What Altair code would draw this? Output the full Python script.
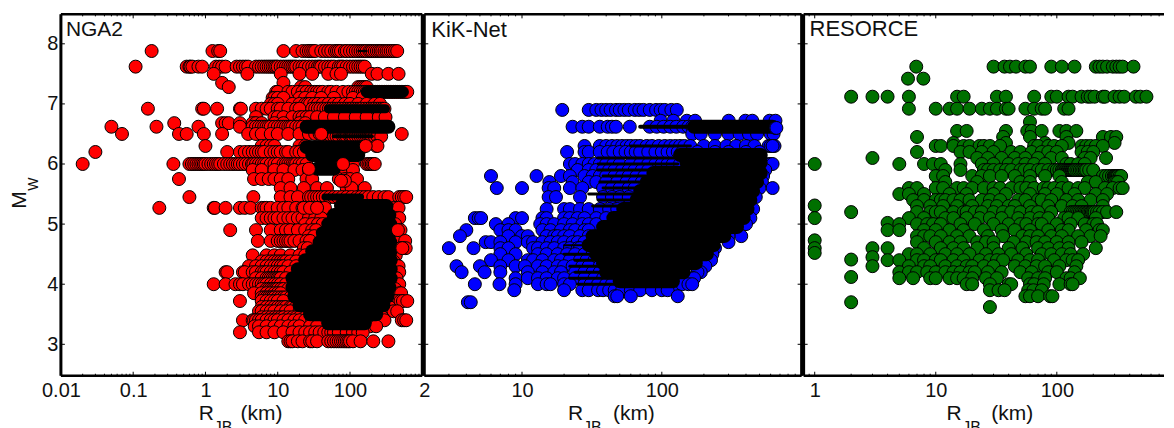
import altair as alt
import pandas as pd

FONT = "Liberation Sans"
YTICKS = [3, 4, 5, 6, 7, 8]
Y_DOMAIN = [2.477, 8.49]
MULT = [1, 2, 3, 4, 5, 6, 7, 8, 9]

# each row: magnitude -> distances
NGA2 = {
 7.88: [.18,1.25,1.5,1.6,12,18,22,25,27,29,31,33,40,45,50,55,62,66,70,75,85,90,100,110,120,130,140,150,160,170,185,195,205,220,235,250,265,280,300,320,340,365,390,420,450],
 7.62: [.108,.55,.6,.62,.66,.8,.9,1.4,1.55,1.7,1.9,2.7,3,3.3,3.6,3.9,5,5.5,6,6.5,7,7.5,8,8.5,9,9.5,10,11,12,13,14,15,16,17,18,20,22,24,27,30,33,36,38,40,45,50,55,60,70,75,80,90,100,110,120,130,140,150,160],
 7.5: [1.3,3.8,11,20,30,50,65,75,200,240,340,470],
 7.35: [1.7,12],
 7.28: [2.1,21,24,130,140,150,160,170],
 7.2: [9.5,10,14,16,19,22,25,29,32,35,38,42,50,55,65,80,95,110,120,130,140,150,160,170,180,190,200,210,225,240,255,270,285,300,320,340,360,380,400,425,450,480,510,540,580,620],
 7.1: [8.5,9,10,12,20,24,30,40,60,110,150,200],
 7.0: [8,9,10,16,20,24,26,28,32,36,42,50,60,70,85,100,130,170,220,260],
 6.92: [.16,.9,.95,1.45,3,3.1,5,6,7,8,10,11,14,18,20,30,33,36,39,43,47,51,55,60,65,70,75,82,90,98,105,115,125,135,145,160,175,190,205,220,240,260,280,300],
 6.78: [5,9,10,12,16,20,22,25,28,35,45,60,85,120,170,250,310],
 6.68: [.37,1.7,1.9,2.1,3,4.5,5,6,9,12,20,24],
 6.62: [.05,.21,.8,3,4.5,5,5.5,6,6.5,7,7.5,8,9,10,11,12,13,14,15,16,18,20,22],
 6.5: [.07,.43,.55,.95,1.7,3.9,5,6,8,10,14,20,27,33,38,520],
 6.46: [45,50,55,60,65,70,80,85,90,100,105,110,120,130,140,150,160,170,180,190,200,220,240,270],
 6.3: [1,6,7,8,9,20,24,230,240],
 6.2: [.03,2,3,3.5,4,4.5,5,5.5,6,6.5,8,9,10,11,13,14,18,20,23],
 6.0: [.02,.36,.6,.65,.7,.75,.8,.85,.9,.95,1,1.1,1.2,1.3,1.4,1.5,1.6,1.8,2,2.2,2.4,2.6,2.8,3,3.3,3.6,4,4.4,4.6,5,5.5,6,6.5,7,8,9,10,12,13,14,15,16,17,18,20,22,25,45,50,55,60,65,75,110,170,180,190,200,210,220],
 5.9: [4.5,6,9,12,17,22,27,70,85,110],
 5.75: [.43,4.7,6,7.5,9,11,14,25,30,70,85,100,125],
 5.6: [11,15,23,35,48,90,105,160],
 5.45: [.6,4.6,11,15,19,27,29,32,35,38,42,46,52,60,68,78,90,105,125,140,160,180,210,250,300,340,480,520,560,600],
 5.27: [.23,1.3,1.35,1.9,3,3.5,4.2,6,6.5,7,8,10,12,14,18,22,25,30,38,45,420,470],
 5.1: [6,7,8,9,10,12,14,16,19,22,27,33,40,400,430,480],
 5.0: [24,30,36,42,390,420],
 4.9: [2.2,5,8,11,13,15,19,24,30,34,420,500],
 4.8: [27,32,380,410],
 4.72: [5.3,8,10,11,12,13,14,15,17,20,25,28,420,480,580],
 4.6: [23,26,400,500,540,590],
 4.48: [4.5,7,9,11,15,20,24,430],
 4.38: [6,7,8,9,10,11,12,13,15,18,400],
 4.3: [4,5,6,7,8,9,10,11,12,14,18,420,450,470],
 4.2: [1.9,2,3.3,3.5,4.5,5,6,6.5,7,8,9,10,11,12,15,480],
 4.1: [5,6,7,7.5,8,8.5,9,9.5,10,10.5,11,13,420,440],
 4.0: [1.3,1.9,2.6,3,3.3,4,4.5,5,5.5,6,6.5,7,8,9,10,11,13,400,480],
 3.92: [6,7,7.5,8,8.5,9,9.5,10,11,12,14,420],
 3.85: [4.7,6,7,8,9,10,11,380,480,510],
 3.78: [6,6.5,7,7.5,8,8.5,9,10,11,12,13,15],
 3.72: [3,6,7,8,9,10,12,380,420,450,500,540,620],
 3.62: [6,7,8,9,10,11,12,13,15,16,18,350],
 3.55: [5.5,6,7,8,9,11,13,15,20,300,400,450],
 3.45: [6,7,8,9,10,11,12,14,16,18,20,24,280],
 3.4: [3.3,4.5,4.7,5,5.5,6,7,8,9,10,12,14,17,20,24,30,240,300,520,560,600],
 3.3: [4.8,5.5,7,9,11,14,17,20,28,35,190,230],
 3.2: [3,5.5,7,9,12,16,20,24,28,33,38,44,50,55,60,70,90,110,130,150],
 3.05: [14,15,16,19,22,28,30,35,50,55,60,65,70,75,80,85,90,95,100,110,140,210,340],
}
NGA2_OVER = {6.5: [40], 6.3: [165], 6.0: [80], 5.92: [27], 5.72: [85,75], 5.27: [23,28,35], 4.9: [460], 4.6: [530]}
# (magnitude, from, to, line width): stretches too dense to tell the circles apart
NGA2_BANDS = [
 (7.2,170,540,12),(6.92,50,310,9),(7.88,130,170,2),(5.45,45,140,7),
 (6.62,25,340,14),(6.46,60,200,4),(6.28,25,150,14),(6.15,30,130,14),(5.92,35,60,14),
 (5.3,75,320,14),(5.15,60,350,14),(5.0,50,360,14),(4.85,42,360,14),(4.7,38,360,14),(4.55,30,365,14),
 (4.4,24,365,14),(4.25,19,365,14),(4.1,16,365,14),(3.95,16,350,14),(3.8,17,330,14),(3.65,20,290,14),(3.5,28,230,14),(3.35,50,160,14),
]

KIK = {
 6.9: [19.4,30,34,37,40,43,47,50,54,58,64,69,74,82,91,98,105,117,128],
 6.72: [98,121,151,173,301,396,444,590,650],
 6.62: [23,27,30,36,41,44,47,59,82,92,103,115,127,142,155,165],
 6.5: [165,190,240,300,360,420,480,600,630],
 6.3: [28,36,40,44,48,52,56,60,65,70,78,85,95,105,115,125,135,145,160,200,240,290,340,400,460,580,600,620,640],
 6.2: [21,28,30,36,41,45,50,55,60,65,70,80,90,100,110,120,130,140,180,240,300,400,500],
 6.0: [22,24,27,30,33,36,40,45,50,60,70,80,90,100,110,120,135,580,600,620],
 5.9: [25,30,34,38,42,46,52,58,64,72,80,550],
 5.8: [6,12.7,19,22,28,32,36,40,46,52,58,66,75,530],
 5.7: [15.7,23,30,34,40,48,56,64,72,520],
 5.6: [6.6,10,15.5,17,22,27,38,44,50,58,64,620,500],
 5.45: [15.5,17.5,26,38,44,50,58,470],
 5.25: [15,20,22,26,30,36,42,48,450],
 5.1: [4.6,4.9,5.1,9,10,14,15,20,22,25,28,34,40,430],
 5.0: [6.5,8,13.5,15,17,20,23,27,30,34,400],
 4.9: [4,7,8,9,14,16,19,22,24,28,30],
 4.8: [3.6,8,10,11,15,17,18,20,22,26,30,370,300],
 4.7: [5.5,6,7,9,11,12,14,16,18,20,23,25,28,300],
 4.6: [3,4.5,7,8,12,13,15,17,20,22,25,26,240],
 4.5: [7,9,13,15,18,21,24,28,32,230],
 4.4: [6,8,11,12,14,17,19,22,26,29,33,225],
 4.3: [3.4,5,7,9,10.5,13,15,18,20,23,27,30,36,205],
 4.2: [3.7,5.4,7,11,14,17,19,24,28,32,36,40,190,180],
 4.1: [9,11,13,15,18,20,24,28,33,38,150,165,170],
 4.0: [4.6,6.9,9,13,15,16,20,22,28,31,35,40,44,125,140,155,165],
 3.9: [8.8,20,27,30,35,38,42,46,52,60,70,85,100,110],
 3.8: [46,48,60,130],
 3.7: [4.1,4.3],
}
KIK_BANDS = [
 (6.62,170,620,14),(6.15,135,510,14),(6.02,150,510,14),(5.85,87,510,14),(5.7,78,480,14),(5.55,70,450,14),(5.4,66,430,14),
 (5.25,53,410,14),(5.1,45,385,14),(4.95,38,345,14),(4.8,32,280,14),(4.65,30,235,14),(4.5,34,210,14),(4.35,38,175,14),(4.2,40,143,14),(4.05,50,120,14),
 (6.62,70,170,4),(6.3,60,160,3),(6.1,35,130,3),(6.0,35,130,3),(5.9,35,90,3),(5.8,38,80,3),(5.7,36,80,3),(5.6,38,72,3),(5.5,30,70,3),(5.4,35,68,3),(5.3,32,55,3),
 (4.65,20,30,2),(4.5,20,34,3),(4.4,24,38,3),(4.3,22,38,3),(4.2,24,40,3),(4.1,22,50,3),(4.0,25,60,3),
]
KIK_OVER = {6.6: [650,660], 6.3: [620]}

RES = {
 7.62: [6.9,30,37,41,46,55,60,90,110,140,210,225,240,260,290,310,330,350,430],
 7.42: [5.9,7.9],
 7.12: [2,3,4,6,15,17,32,38,65,90,100,125,135,160,180,190,205,240,250,300,330,360,450,490,550],
 6.92: [6,10,13,15,19,24,28,32,38,40,55,65,75,80,115,125],
 6.7: [60],
 6.55: [15,18,38,57,62,75,105,120,145],
 6.45: [7,36,60,120,240,280,310],
 6.35: [14,38,80,125,300],
 6.3: [10,11,14,17,19,23,25,28,34,65,70,85,95,110,160,175,190,210,240],
 6.2: [7,16,19,24,30,42,50,62,75,85,100,160,180,200],
 6.1: [3,22,27,35,45,55,70,90,110,170,190,255],
 6.0: [1,5,8,9.5,11,16,24,30,40,48,55,65,80,120,130,150,170],
 5.9: [12,16,25,27,30,34,38,42,50,54,60,70,75,85,95,100,105,110,113,115,118,120,123,125,128,130,133,135,138,140,145,150,155,160,165,170,175,185,200],
 5.8: [10,11.5,20,24,28,35,45,60,80,105,240,255,270,285,295,300,305,310,315,320,330,340],
 5.7: [12,22,50,60,110,180,210,300,310,320],
 5.6: [6,7,10,11.5,15,17,20,25,30,34,42,50,56,65,78,85,95,110,125,150,170,250,290,330,350],
 5.5: [5,6,8,13,18,30,38,60,80,100,140,210,260],
 5.4: [6.5,8,10,11,12,14,16,19,24,28,34,48,55,70,75,90,120,150,190,240],
 5.31: [1],
 5.3: [7,9,11.5,15,20,27,32,40,45,60,85,110,135,160,240],
 5.2: [2,7,9,10,11,14,17,18,21,24,30,36,42,50,62,70,90,130,135,140,145,150,155,160,165,170,175,180,185,190,195,200,205,215,225,240,260,310],
 5.1: [1,6,8,12,14,18,23,28,35,48,60,72,85,115,125,150,210],
 5.02: [4],
 5.0: [5,7,8.5,9.5,11,16,21,30,40,50,56,70,75,100,130,170,200,215],
 4.9: [4,5,8,10,13,17,25,35,45,60,85,110,125,175,225,240],
 4.8: [7,8,9,11,15,19,27,36,52,60,70,90,110,150,190,230],
 4.73: [1],
 4.7: [7,10,13,16,22,26,30,44,56,68,80,100,125,160],
 4.6: [1,3,4,8,11,14,17,22,30,40,52,70,85,105,125,210],
 4.52: [1],
 4.5: [6,7,9,12,15,19,26,33,42,56,75,90,110,130,165],
 4.45: [3],
 4.41: [2],
 4.4: [4,5,7,8,10,11,14,17,23,28,32,36,48,60,70,95,120,135,150],
 4.3: [3,6,8,9,12,15,18,20,25,30,45,55,68,80,105,145],
 4.2: [5,6,7,8.5,10,12,14,16,19,21,27,35,50,62,85,100,140],
 4.12: [2],
 4.1: [5,6.5,9,10,13,15,17,20,26,32,58,70,80,120,130,155],
 4.0: [18,20,28,40,42,60,65,78,105,130,135],
 3.9: [28,33,37,58,64,75],
 3.8: [55,60,70,88,92],
 3.7: [2],
 3.62: [28],
}

PANELS = [
 dict(name="NGA2", rows=NGA2, over=NGA2_OVER, bands=NGA2_BANDS, color="#ff0000", domain=[0.01, 1000], width=362,
      labels=[0.01, 0.1, 1, 10, 100], decades=[0.01, 0.1, 1, 10, 100], tx=(138, 153, 180), lx=5, ly=22, ls=21),
 dict(name="KiK-Net", rows=KIK, over=KIK_OVER, bands=KIK_BANDS, color="#0000ff", domain=[2, 1000], width=378,
      labels=[2, 10, 100], decades=[1, 10, 100], tx=(144, 159, 189), lx=7, ly=23, ls=22),
 dict(name="RESORCE", rows=RES, over={}, bands=[], color="#007000", domain=[0.81, 768], width=361,
      labels=[1, 10, 100], decades=[0.1, 1, 10, 100], tx=(143, 159, 188), lx=6, ly=22, ls=22),
]


def table(rows):
    return pd.DataFrame([{"r": r, "m": m} for m, rs in rows.items() for r in rs])


def text(s, x, y, size, **kw):
    return alt.Chart(pd.DataFrame({"t": [s]})).mark_text(
        text=s, font=FONT, fontSize=size, color="#111111", align=kw.pop("align", "left"),
        baseline="alphabetic", **kw
    ).encode(x=alt.value(x), y=alt.value(y))


def panel(p, first, last):
    xs = alt.Scale(type="log", domain=p["domain"], nice=False, clamp=False)
    ys = alt.Scale(domain=Y_DOMAIN, nice=False, zero=False)
    xax = alt.Axis(values=p["labels"], format="~g", grid=False, domain=False, ticks=False, labelFont=FONT,
                   labelFontSize=20, labelColor="#111111", labelPadding=5, labelOverlap=False, labelFlush=False,
                   labelBound=False, title=None)
    yax = alt.Axis(values=YTICKS, grid=False, domain=False, ticks=False, labelFont=FONT, labelFontSize=20,
                   labelColor="#111111", labelPadding=3, title=None) if first else None
    X = alt.X("r:Q", scale=xs, axis=xax)
    Y = alt.Y("m:Q", scale=ys, axis=yax)
    mark = dict(filled=True, size=169, stroke="black", strokeWidth=1, opacity=1, fill=p["color"])
    layers = [alt.Chart(table(p["rows"])).mark_point(**mark).encode(x=X, y=Y)]
    if p["bands"]:
        b = pd.DataFrame(p["bands"], columns=["m", "r", "r2", "lw"])
        for lw, g in b.groupby("lw"):
            layers.append(alt.Chart(g).mark_rule(color="black", strokeWidth=int(lw), strokeCap="round").encode(
                x=X, x2="r2:Q", y=Y))
    if p["over"]:
        layers.append(alt.Chart(table(p["over"])).mark_point(**mark).encode(x=X, y=Y))
    lo, hi = p["domain"]
    major = [d for d in [0.01, 0.1, 1, 10, 100, 1000] if lo <= d <= hi]
    minor = [d * k for d in p["decades"] for k in MULT[1:] if lo <= d * k <= hi]
    for vals, n in ((major, 4), (minor, 2)):
        df = pd.DataFrame({"r": vals})
        for y0, y1 in ((0, n), (362 - n, 362)):
            layers.append(alt.Chart(df).mark_rule(color="black", strokeWidth=1).encode(
                x=X, y=alt.value(y0), y2=alt.value(y1)))
    ydf = pd.DataFrame({"m": YTICKS})
    w = p["width"]
    sides = [(0, 4)] if last else [(0, 4), (w - 4, w)]
    for x0, x1 in sides:
        layers.append(alt.Chart(ydf).mark_rule(color="black", strokeWidth=1).encode(
            y=Y, x=alt.value(x0), x2=alt.value(x1)))
    # frame
    one = pd.DataFrame({"k": [0]})
    for yy in (0, 362):
        layers.append(alt.Chart(one).mark_rule(color="black", strokeWidth=2.5).encode(
            x=alt.value(0), x2=alt.value(w), y=alt.value(yy)))
    edges = [0] if last else [0, w]
    for xx in edges:
        layers.append(alt.Chart(one).mark_rule(color="black", strokeWidth=3).encode(
            y=alt.value(0), y2=alt.value(362), x=alt.value(xx)))
    layers.append(text(p["name"], p["lx"], p["ly"], p["ls"]))
    a, b_, c = p["tx"]
    layers += [text("R", a, 406, 21), text("JB", b_, 419, 16), text("(km)", c, 406, 21)]
    if first:
        layers += [text("M", -35, 186, 21, align="center", angle=270), text("W", -23, 170, 14, align="center", angle=270)]
    return alt.layer(*layers).properties(width=w, height=362)


chart = alt.hconcat(*[panel(p, i == 0, i == 2) for i, p in enumerate(PANELS)], spacing=2, bounds="flush").properties(
    padding={"left": 1, "top": 4, "right": 0, "bottom": 0}, background="white"
).configure_view(strokeWidth=0)

chart.save("out.html", embed_options={"renderer": "svg", "actions": False})
